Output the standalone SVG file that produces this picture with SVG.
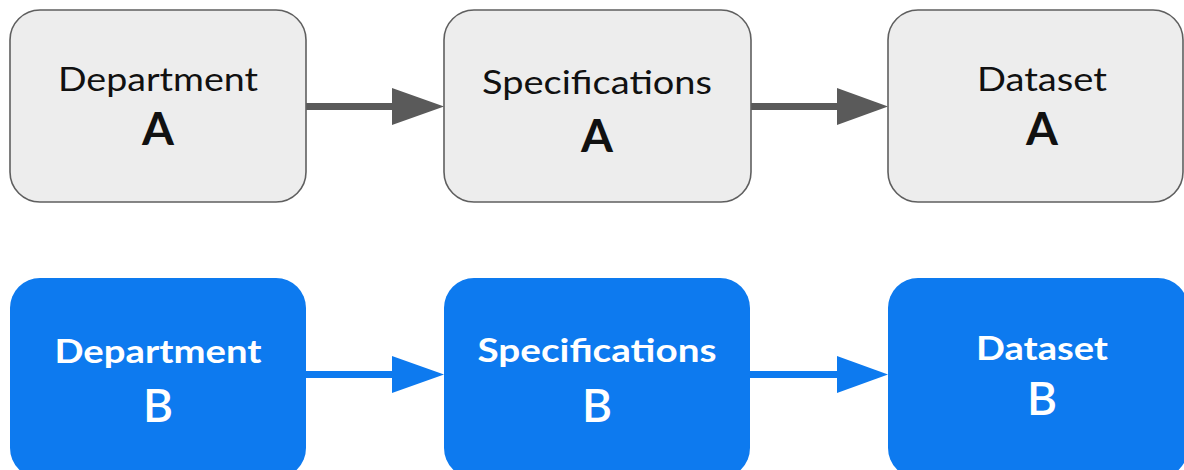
<svg xmlns="http://www.w3.org/2000/svg" width="1184" height="470" viewBox="0 0 1184 470">
<style>
.ga{fill:#ededed;stroke:#5f5f5f;stroke-width:1.6}
.bb{fill:#0d7aef}
.t1{font-family:Lato,"Open Sans","Liberation Sans",sans-serif;font-size:33px;fill:#111;text-anchor:middle}
.l1{font-family:Lato,"Open Sans","Liberation Sans",sans-serif;font-size:46px;font-weight:700;fill:#111;text-anchor:middle}
.t2{font-family:Lato,"Open Sans","Liberation Sans",sans-serif;font-size:33px;font-weight:700;fill:#fff;text-anchor:middle}
.l2{font-family:Lato,"Open Sans","Liberation Sans",sans-serif;font-size:46px;font-weight:600;fill:#fff;text-anchor:middle}
.cg{stroke:#5a5a5a;stroke-width:7;fill:none}
.cb{stroke:#0d7aef;stroke-width:7;fill:none}
</style>
<rect width="1184" height="470" fill="#fff"/>
<g id="connectors">
<line class="cg" x1="306" y1="106.5" x2="394" y2="106.5"/>
<polygon points="392,88 444,106.5 392,125" fill="#5a5a5a"/>
<line class="cg" x1="751" y1="106.5" x2="839" y2="106.5"/>
<polygon points="837,88 888,106.5 837,125" fill="#5a5a5a"/>
<line class="cb" x1="306" y1="374.5" x2="394" y2="374.5"/>
<polygon points="392,356 444,374.5 392,393" fill="#0d7aef"/>
<line class="cb" x1="750" y1="374.5" x2="839" y2="374.5"/>
<polygon points="837,356 888,374.5 837,393" fill="#0d7aef"/>
</g>
<g id="deptA">
<rect class="ga" x="10" y="10" width="296" height="192" rx="30"/>
<text class="t1" x="158" y="91" textLength="200" lengthAdjust="spacingAndGlyphs">Department</text>
<text class="l1" x="158" y="145">A</text>
</g>
<g id="specA">
<rect class="ga" x="444" y="10" width="307" height="192" rx="30"/>
<text class="t1" x="597" y="94" textLength="230" lengthAdjust="spacingAndGlyphs">Specifications</text>
<text class="l1" x="597" y="152">A</text>
</g>
<g id="dataA">
<rect class="ga" x="888" y="10" width="295" height="192" rx="30"/>
<text class="t1" x="1042" y="91" textLength="130" lengthAdjust="spacingAndGlyphs">Dataset</text>
<text class="l1" x="1042" y="145">A</text>
</g>
<g id="deptB">
<rect class="bb" x="10" y="278" width="296" height="200" rx="30"/>
<text class="t2" x="158" y="363" textLength="207" lengthAdjust="spacingAndGlyphs">Department</text>
<text class="l2" x="158" y="422">B</text>
</g>
<g id="specB">
<rect class="bb" x="444" y="278" width="306" height="200" rx="30"/>
<text class="t2" x="597" y="362" textLength="239" lengthAdjust="spacingAndGlyphs">Specifications</text>
<text class="l2" x="597" y="422">B</text>
</g>
<g id="dataB">
<rect class="bb" x="888" y="278" width="300" height="200" rx="30"/>
<text class="t2" x="1042" y="360" textLength="132" lengthAdjust="spacingAndGlyphs">Dataset</text>
<text class="l2" x="1042" y="415">B</text>
</g>
</svg>
